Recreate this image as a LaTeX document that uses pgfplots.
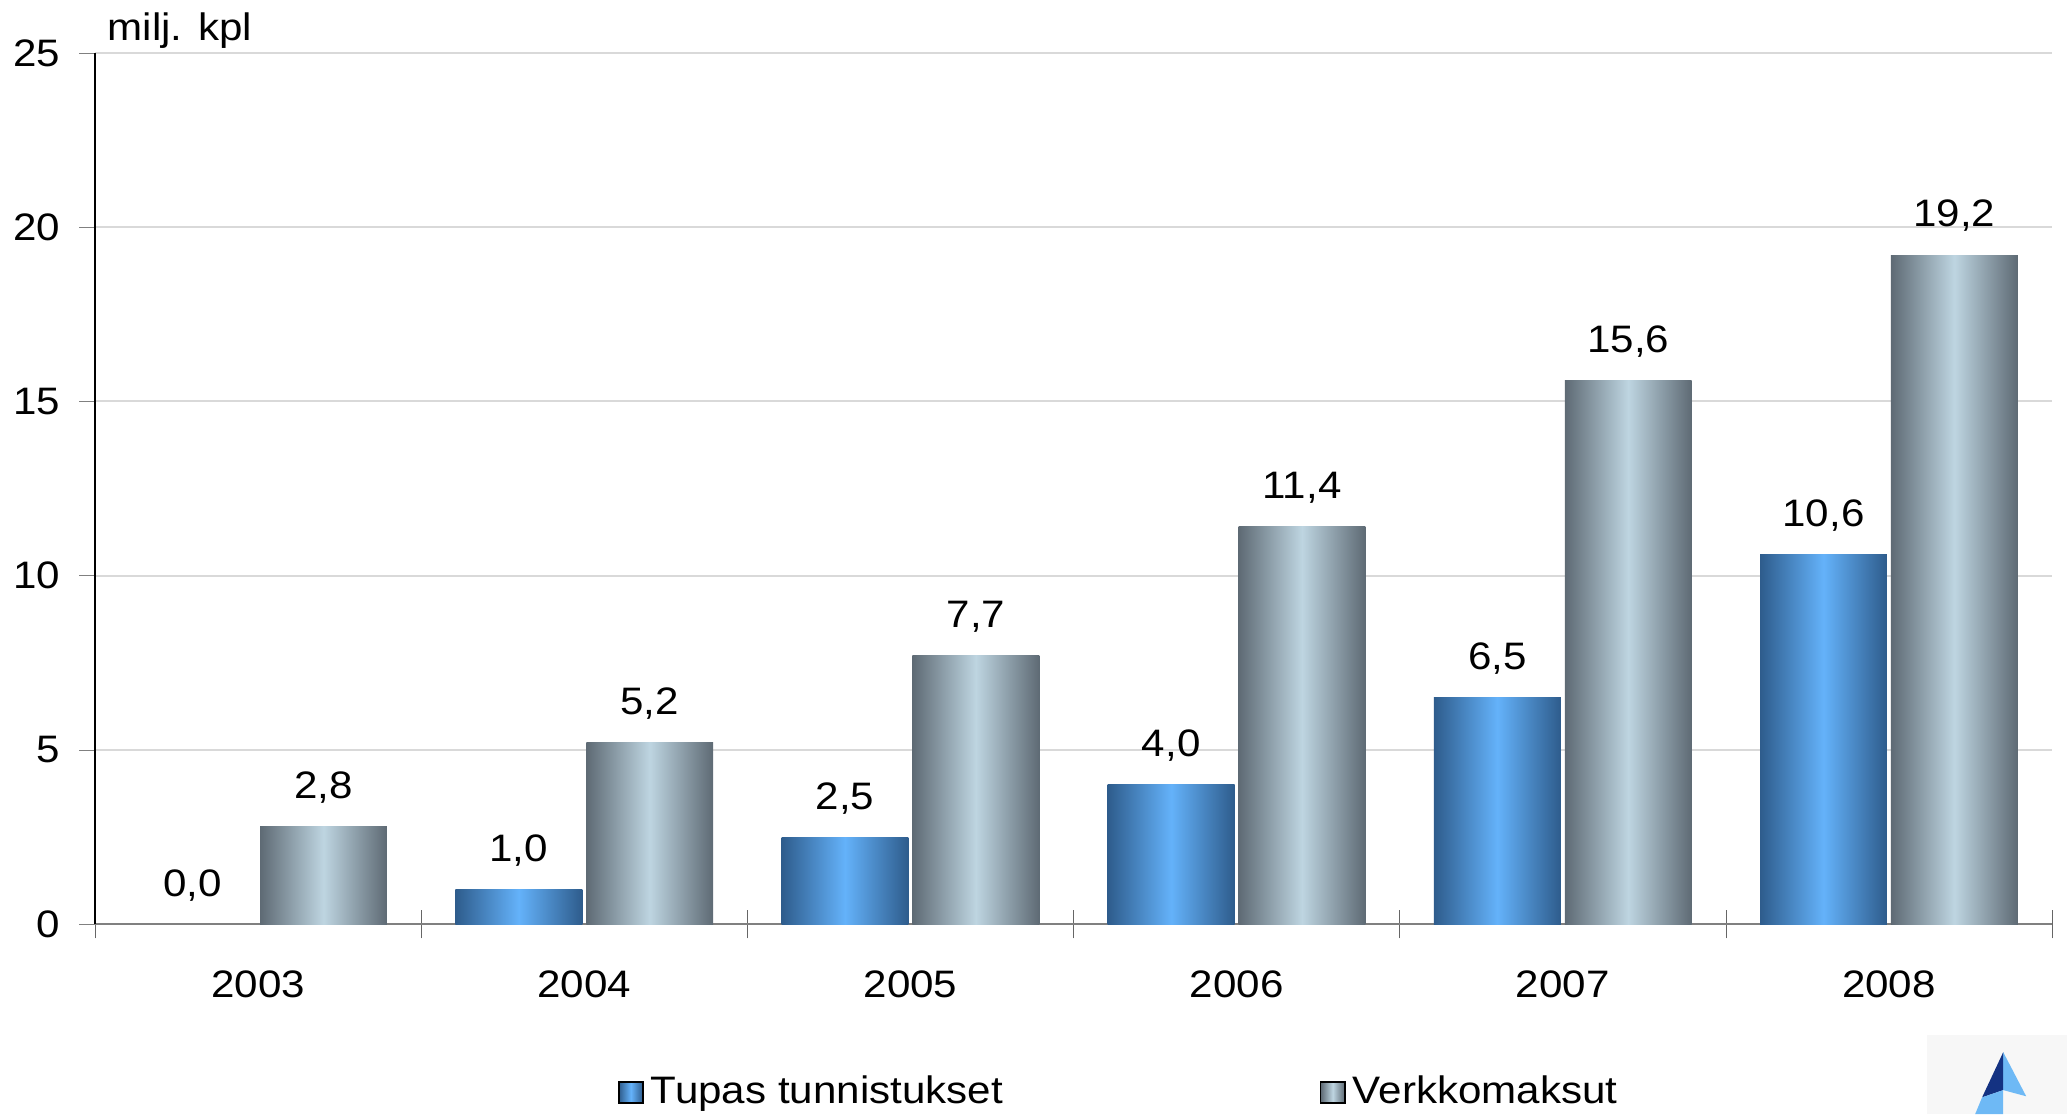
\documentclass[border=0pt]{standalone}
\usepackage{fontspec}
\setmainfont{Liberation Sans}[FakeStretch=1.1]
\usepackage{pgfplots}
\pgfplotsset{compat=1.18}

\definecolor{tupasDark}{RGB}{46,92,140}
\definecolor{tupasLight}{RGB}{100,178,250}
\definecolor{verkDark}{RGB}{94,106,116}
\definecolor{verkLight}{RGB}{190,213,225}
\definecolor{gridgray}{RGB}{217,217,217}
\definecolor{logoDark}{RGB}{20,50,130}
\definecolor{logoLight}{RGB}{110,185,245}

\newcommand{\lbl}{\fontsize{10.5}{12.6}\selectfont}

\pgfplotsset{
  tupasShade/.style={left color=tupasDark, right color=tupasDark, middle color=tupasLight},
  verkShade/.style={left color=verkDark, right color=verkDark, middle color=verkLight},
  tupas/.style={ybar, bar width=34.8pt, bar shift=-17.95pt, draw=none, tupasShade, forget plot,
    every node near coord/.append style={xshift=-17.95pt}},
  verk/.style={ybar, bar width=34.8pt, bar shift=17.95pt, draw=none, verkShade, forget plot,
    every node near coord/.append style={xshift=17.95pt}},
}

\begin{document}
\begin{tikzpicture}[font=\lbl]
\begin{axis}[
  name=main,
  at={(0,0)}, anchor=south west,
  scale only axis, width=536.8pt, height=239pt,
  xmin=-0.5, xmax=5.5, ymin=0, ymax=25,
  axis x line*=bottom, axis y line*=left,
  x axis line style={-, draw=black!50},
  y axis line style={-, draw=black},
  xtick={0,1,2,3,4,5},
  xticklabels={2003,2004,2005,2006,2007,2008},
  minor xtick={-0.5,0.5,1.5,2.5,3.5,4.5,5.5},
  major x tick style={draw=none},
  minor x tick style={draw=black!60},
  xtick align=center, minor tick length=7.7pt,
  ytick={0,5,10,15,20,25},
  ytick align=outside, ytick pos=left, major tick length=4.3pt,
  ymajorgrids, grid style={draw=gridgray, line width=0.5pt},
  /pgf/number format/assume math mode=true,
  tick label style={font=\lbl},
  yticklabel style={inner sep=0pt, xshift=-5pt},
  xticklabel style={inner sep=0pt, yshift=-10.5pt},
  nodes near coords={\pgfmathprintnumber[fixed,zerofill,precision=1,use comma]{\pgfplotspointmeta}},
  every node near coord/.append style={font=\lbl, inner sep=0pt, text depth=0pt, yshift=7.5pt},
  legend columns=2,
  legend style={at={(0.2673,-0.1933)}, anchor=west, draw=none, fill=none,
    inner sep=0pt, outer sep=0pt, font=\lbl,
    /tikz/every even column/.append style={column sep=85pt}},
  legend cell align=left,
  legend image code/.code={\fill[#1] (0pt,-2.9pt) rectangle (6.6pt,2.9pt);},
]
% Tupas tunnistukset
\addplot[tupas] coordinates {(0,0.0)};
\addplot[tupas] coordinates {(1,1.0)};
\addplot[tupas] coordinates {(2,2.5)};
\addplot[tupas] coordinates {(3,4.0)};
\addplot[tupas] coordinates {(4,6.5)};
\addplot[tupas] coordinates {(5,10.6)};
% Verkkomaksut
\addplot[verk] coordinates {(0,2.8)};
\addplot[verk] coordinates {(1,5.2)};
\addplot[verk] coordinates {(2,7.7)};
\addplot[verk] coordinates {(3,11.4)};
\addplot[verk] coordinates {(4,15.6)};
\addplot[verk] coordinates {(5,19.2)};
\addlegendimage{tupasShade}
\addlegendentry{Tupas tunnistukset}
\addlegendimage{verkShade}
\addlegendentry{Verkkomaksut}
\end{axis}
\node[anchor=base west, inner sep=0pt, font=\lbl] at (main.north west) [xshift=3.3pt, yshift=3.3pt] {milj. kpl};
% logo in the lower right corner
\fill[black!3] (502.5pt,-52.1pt) rectangle (540.9pt,-30.4pt);
\fill[logoLight] (523.4pt,-35.1pt) -- (529.7pt,-47.2pt) -- (523.4pt,-45.5pt) -- cycle;
\fill[logoDark] (523.4pt,-35.1pt) -- (523.4pt,-45.5pt) -- (517.6pt,-47.5pt) -- cycle;
\fill[logoLight] (517.6pt,-47.5pt) -- (523.4pt,-45.5pt) -- (523.4pt,-52.1pt) -- (515.7pt,-52.1pt) -- cycle;
\pgfresetboundingbox
\path (-26.06pt,-52.1pt) rectangle (540.9pt,253.5pt);
\end{tikzpicture}
\end{document}
